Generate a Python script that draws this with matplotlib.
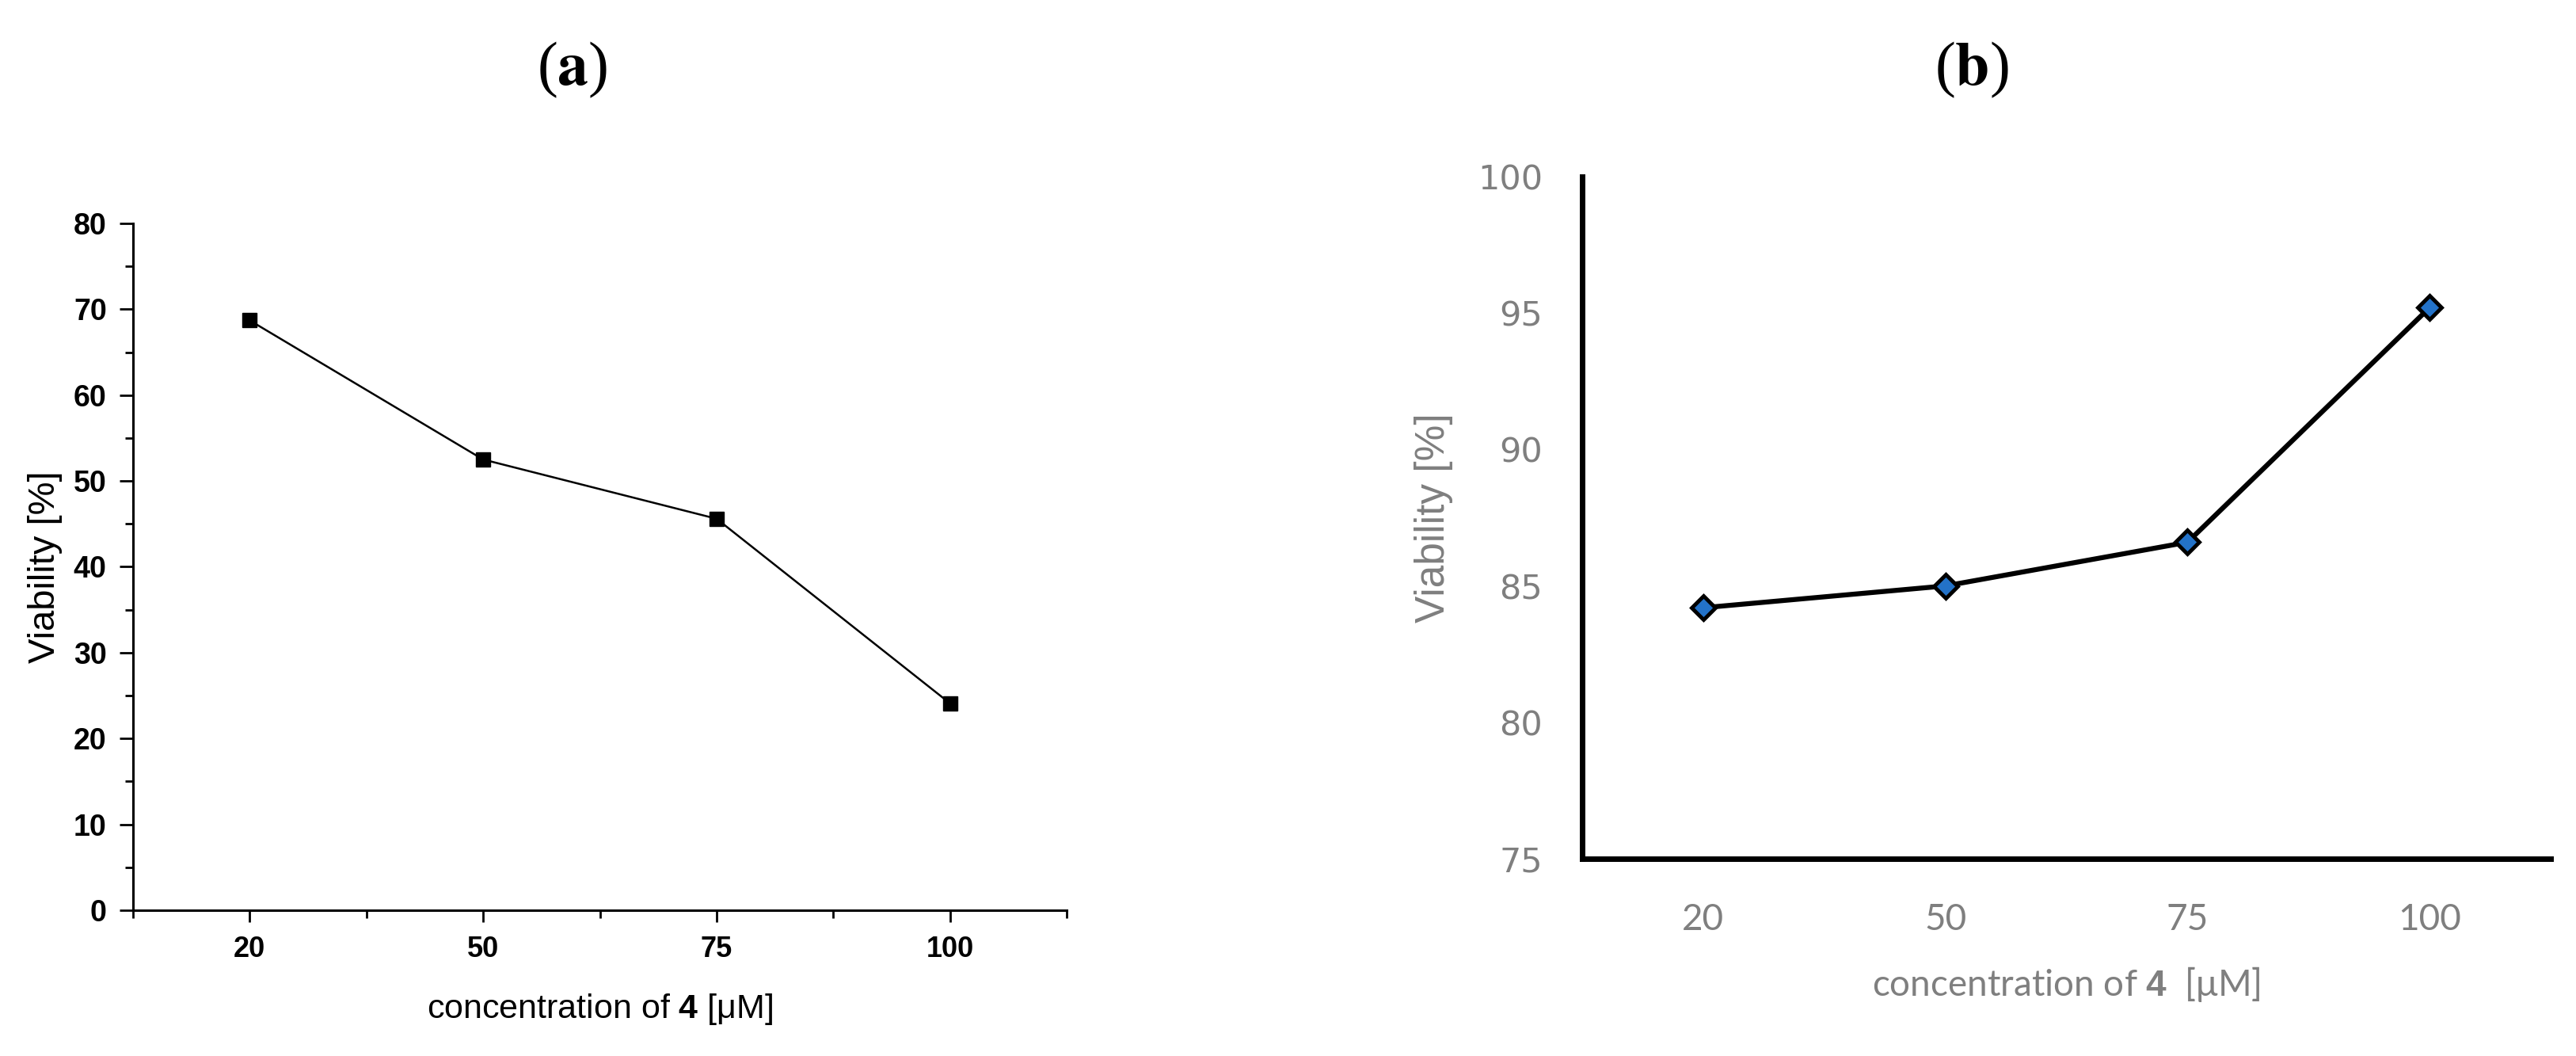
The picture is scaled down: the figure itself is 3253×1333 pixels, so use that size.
import matplotlib
matplotlib.use("Agg")
import matplotlib.pyplot as plt
from matplotlib.ticker import FixedLocator

# ---- data ----
concentrations = ["20", "50", "75", "100"]
viability_a = [68.7, 52.5, 45.6, 24.1]
viability_b = [84.2, 85.0, 86.6, 95.2]
yticks_a = [0, 10, 20, 30, 40, 50, 60, 70, 80]
yticks_b = [75, 80, 85, 90, 95, 100]

plt.rcParams['mathtext.fontset'] = 'custom'
plt.rcParams['mathtext.bf'] = 'Liberation Sans:bold'
plt.rcParams['mathtext.rm'] = 'Liberation Sans'

W, H = 3253, 1333
fig = plt.figure(figsize=(W / 100, H / 100), dpi=100)
fig.patch.set_facecolor('white')

def fx(px):
    return px / W

def fy(py):
    return 1 - py / H

narrow = ['Liberation Sans Narrow', 'Liberation Sans', 'DejaVu Sans']
arial = ['Liberation Sans', 'DejaVu Sans']
gray = '#7f7f7f'

# ---------------- panel (a) ----------------
axa = fig.add_axes([fx(168), fy(1149), fx(1347 - 168), (1149 - 282) / H])
xs = list(range(1, len(concentrations) + 1))
axa.plot(xs, viability_a, color='black', lw=1.8, marker='s', ms=13.5,
         mfc='black', mec='black')
axa.set_xlim(0.5, len(concentrations) + 0.5)
axa.set_ylim(0, 80)
for s in ['top', 'right']:
    axa.spines[s].set_visible(False)
for s in ['left', 'bottom']:
    axa.spines[s].set_linewidth(2.2)
axa.set_xticks(xs)
axa.set_xticklabels(concentrations, fontfamily=arial, fontweight='bold', fontsize=26)
axa.xaxis.set_minor_locator(FixedLocator([0.5, 1.5, 2.5, 3.5, 4.5]))
axa.set_yticks(yticks_a)
axa.set_yticklabels([str(v) for v in yticks_a], fontfamily=arial, fontweight='bold', fontsize=27)
axa.yaxis.set_minor_locator(FixedLocator([5, 15, 25, 35, 45, 55, 65, 75]))
axa.tick_params(axis='both', which='major', direction='out', length=11, width=2.0, pad=12)
axa.tick_params(axis='y', which='major', length=12)
axa.tick_params(axis='both', which='minor', direction='out', length=7, width=2.0)
axa.set_xlabel(r"concentration of $\mathbf{4}$ [μM]", fontfamily=narrow, fontsize=31, labelpad=26)
axa.set_ylabel("Viability [%]", fontfamily=narrow, fontsize=34, labelpad=10)
axa.patch.set_alpha(0)

# ---------------- panel (b) ----------------
axb = fig.add_axes([fx(1998), fy(1084), fx(3221 - 1998), (1084 - 223) / H])
axb.plot(xs, viability_b, color='black', lw=4.5, marker='D', ms=15,
         mfc='#2372c8', mec='black', mew=3.5, solid_joinstyle='miter')
axb.set_xlim(0.5, len(concentrations) + 0.5)
axb.set_ylim(75, 100)
for s in ['top', 'right']:
    axb.spines[s].set_visible(False)
for s in ['left', 'bottom']:
    axb.spines[s].set_linewidth(5.0)
axb.set_xticks(xs)
axb.set_xticklabels(concentrations, fontfamily=['Lato', 'DejaVu Sans'], fontsize=33, color=gray)
axb.set_yticks(yticks_b)
axb.set_yticklabels([str(v) for v in yticks_b], fontfamily=['DejaVu Sans'], fontsize=31, color=gray)
axb.tick_params(axis='both', which='both', length=0)
axb.tick_params(axis='x', pad=40)
axb.tick_params(axis='y', pad=36)
axb.set_xlabel(r"concentration of $\mathbf{4}$  [μM]", fontfamily=['Lato', 'DejaVu Sans'],
               fontsize=33, color=gray, labelpad=26)
axb.set_ylabel("Viability [%]", fontfamily=narrow, fontsize=37, color=gray, labelpad=22)
axb.patch.set_alpha(0)

# ---------------- titles ----------------
serif = ['Liberation Serif', 'DejaVu Serif']
for label, xc in [("a", 723), ("b", 2490)]:
    fig.text(fx(xc), fy(88), r"($\mathbf{%s}$)" % label, ha='center', va='center',
             fontfamily=serif, fontsize=56, math_fontfamily='stix')

fig.savefig('out.png', dpi=100, facecolor='white')
